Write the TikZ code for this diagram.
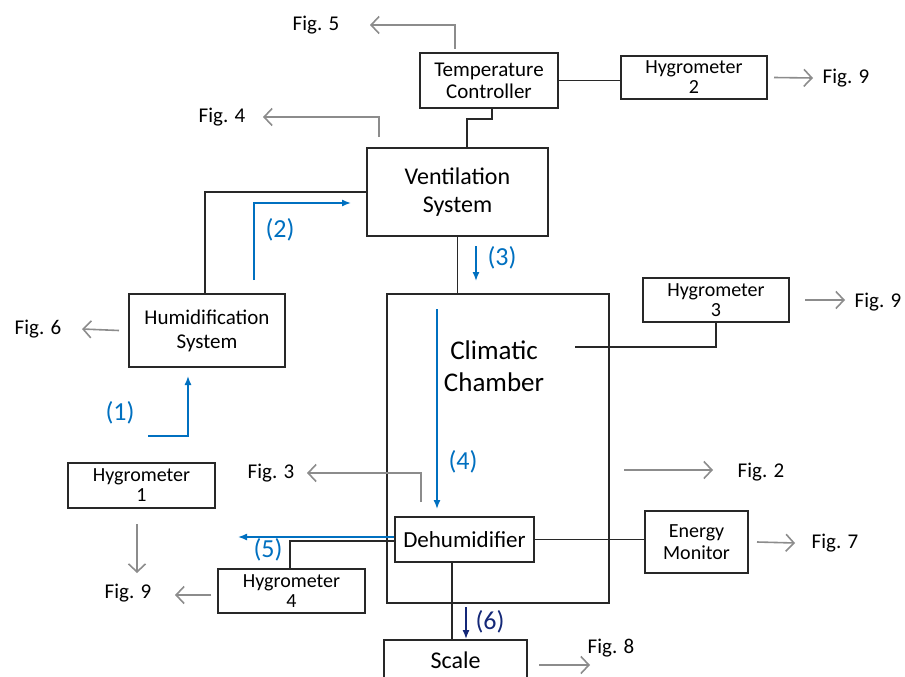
\documentclass[tikz,border=0pt]{standalone}
\usepackage{fontspec}
\setmainfont{Carlito}
\usetikzlibrary{arrows.meta}

\definecolor{flowblue}{RGB}{0,112,192}
\definecolor{flownavy}{RGB}{20,40,120}
\definecolor{outgray}{RGB}{140,140,140}
\definecolor{boxline}{RGB}{40,40,40}

\newcommand{\fsz}[1]{\fontsize{#1}{#1}\selectfont}

\tikzset{
  unitbox/.style={draw=boxline, line width=2pt, fill=white, inner sep=0pt, align=center, font=\fsz{20}},
  figlabel/.style={inner sep=0pt, font=\fsz{21}},
  flowlabel/.style={inner sep=0pt, text=flowblue, font=\fsz{26}},
  link/.style={draw=boxline, line width=1.8pt},
  outarrow/.style={draw=outgray, line width=1.6pt, -{Straight Barb[length=8pt,width=17pt,line width=1.6pt]}},
  flowarrow/.style={draw=flowblue, line width=1.4pt, -{Latex[length=9pt,width=7pt]}},
}

\begin{document}
\begin{tikzpicture}[x=1pt,y=-1pt]
\useasboundingbox (0,0) rectangle (905,677);

% Boxes
\node[unitbox, minimum width=138pt, minimum height=55pt, font=\fsz{21}] (tc) at (489,80.5) {Temperature\\[1pt]Controller};
\node[unitbox, minimum width=146pt, minimum height=43pt] (hyg2) at (694,77.5) {Hygrometer\\2};
\node[unitbox, minimum width=181pt, minimum height=88pt, font=\fsz{24}] (vent) at (457.5,192) {Ventilation\\[4pt]System};
\node[unitbox, minimum width=156pt, minimum height=73pt, font=\fsz{21}] (humid) at (207,330.5) {Humidification\\[3pt]System};
\node[unitbox, minimum width=222pt, minimum height=309pt] (chamber) at (498,448.5) {};
\node[inner sep=0pt, align=center, font=\fsz{27}] (ctext) at (494,366) {Climatic\\[5pt]Chamber};
\node[unitbox, minimum width=146pt, minimum height=44pt] (hyg3) at (716,300) {Hygrometer\\3};
\node[unitbox, minimum width=139pt, minimum height=45pt, font=\fsz{23}] (dehum) at (464.5,539.5) {Dehumidifier};
\node[unitbox, minimum width=103pt, minimum height=62pt] (energy) at (696.5,542) {Energy\\[2pt]Monitor};
\node[unitbox, minimum width=143pt, minimum height=40pt, font=\fsz{24}] (scale) at (455.5,660) {Scale};
\node[unitbox, minimum width=147pt, minimum height=45pt] (hyg1) at (141.5,485.5) {Hygrometer\\1};
\node[unitbox, minimum width=147pt, minimum height=44pt] (hyg4) at (291.5,591) {Hygrometer\\4};

% Figure references
\node[figlabel] (fig5) at (316,25) {Fig. 5};
\node[figlabel] (fig4) at (222,117) {Fig. 4};
\node[figlabel] (fig9a) at (846,78) {Fig. 9};
\node[figlabel] (fig6) at (38,329) {Fig. 6};
\node[figlabel] (fig9b) at (878,302) {Fig. 9};
\node[figlabel] (fig2) at (761,472) {Fig. 2};
\node[figlabel] (fig3) at (271,473) {Fig. 3};
\node[figlabel] (fig7) at (835,543) {Fig. 7};
\node[figlabel] (fig8) at (611,648) {Fig. 8};
\node[figlabel] (fig9c) at (128,593) {Fig. 9};

\coordinate (to5) at (370,25);
\coordinate (to4) at (263,117);
\coordinate (to9a) at (813,78);
\coordinate (to6) at (82,329);
\coordinate (to9b) at (845,300);
\coordinate (to2) at (713,470);
\coordinate (to3) at (307,473);
\coordinate (to7) at (795,543);
\coordinate (to8) at (590,665);
\coordinate (to9c) at (175,595);
\coordinate (to9d) at (137,573);

% Wiring
\draw[link] (tc.east) -- (tc.east -| hyg2.west);
\draw[link] ([xshift=3pt]tc.south) -- ++(0,10) -| ([xshift=9.5pt]vent.north);
\draw[link] ([xshift=-2pt]humid.north) |- (vent.west);
\draw[link] (vent.south) -- (vent.south |- chamber.north);
\coordinate (c3) at (575,347);
\draw[link] (c3) -| (hyg3.south);
\draw[link] (dehum.east) -- (dehum.east -| energy.west);
\draw[link] ([xshift=-12.5pt]dehum.south) -- ([xshift=-3.5pt]scale.north);
\draw[link] ([yshift=-1.5pt]dehum.west) -| ([xshift=-1.5pt]hyg4.north);

% Outputs to figures
\draw[outarrow] ([xshift=-34pt,yshift=3pt]tc.north) |- (to5);
\draw[outarrow] ([xshift=-78.5pt,yshift=10pt]vent.north) |- (to4);
\draw[outarrow] ([xshift=6pt]hyg2.east) -- (to9a);
\draw[outarrow] ([xshift=-9pt]humid.west) -- (to6);
\draw[outarrow] ([xshift=15pt]hyg3.east) -- (to9b);
\draw[outarrow, shorten <=14pt] (chamber.east |- to2) -- (to2);
\draw[outarrow] ([xshift=-43.5pt,yshift=14pt]dehum.north) |- (to3);
\draw[outarrow] ([xshift=8pt]energy.east) -- (to7);
\draw[outarrow] ([xshift=11pt,yshift=-5pt]scale.east) -- (to8);
\draw[outarrow] ([xshift=-6pt,yshift=-4pt]hyg4.west) -- (to9c);
\draw[outarrow] ([xshift=-4.5pt,yshift=-15pt]hyg1.south) -- (to9d);

% Air and water flow
\coordinate (f1) at (148,436);
\draw[flowarrow] (f1) -| ([xshift=-19pt,yshift=-8pt]humid.south);
\node[flowlabel] (n1) at (120,413) {(1)};
\coordinate (f2) at (254,280);
\draw[flowarrow] (f2) |- ([xshift=-15pt,yshift=-11pt]vent.west);
\node[flowlabel] (n2) at (280,230) {(2)};
\draw[flowarrow] ([xshift=18.5pt,yshift=-9pt]vent.south) -- ([xshift=-22pt,yshift=12pt]chamber.north);
\node[flowlabel] (n3) at (502,258) {(3)};
\coordinate (f4) at (437,309);
\draw[flowarrow] (f4) -- ([xshift=-27.5pt,yshift=7pt]dehum.north);
\node[flowlabel] (n4) at (463,462) {(4)};
\coordinate (f5) at (238,537);
\draw[flowarrow] ([yshift=2.5pt]dehum.west) -- (f5);
\node[flowlabel] (n5) at (268,550) {(5)};
\draw[flowarrow, draw=flownavy] ([xshift=-32pt,yshift=-3pt]chamber.south) -- ([xshift=10.5pt]scale.north);
\node[flowlabel, text=flownavy] (n6) at (490,622) {(6)};

\end{tikzpicture}
\end{document}
